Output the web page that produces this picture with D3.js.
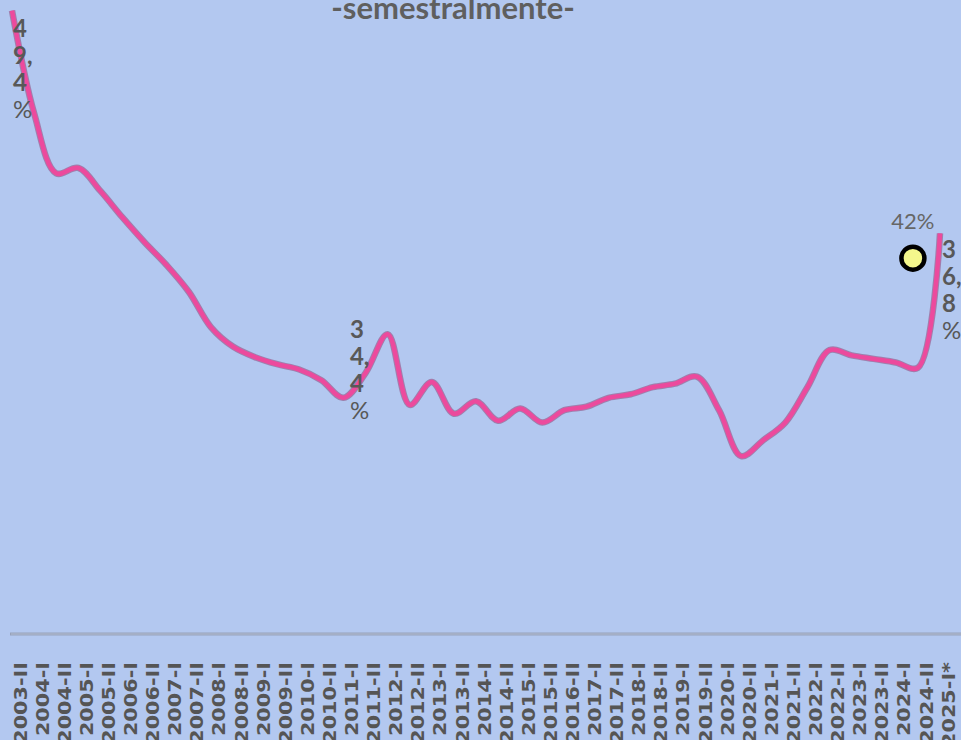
<!DOCTYPE html>
<html>
<head>
<meta charset="utf-8">
<script src="https://cdn.jsdelivr.net/npm/d3@7"></script>
<style>
  html, body { margin: 0; padding: 0; background: #b3c8f0; overflow: hidden; }
  svg { display: block; }
</style>
</head>
<body>
<div id="chart"></div>
<script>
// semesters (2016-I not published)
const periods = [
  '2003-II', '2004-I', '2004-II', '2005-I', '2005-II', '2006-I', '2006-II',
  '2007-I', '2007-II', '2008-I', '2008-II', '2009-I', '2009-II', '2010-I',
  '2010-II', '2011-I', '2011-II', '2012-I', '2012-II', '2013-I', '2013-II',
  '2014-I', '2014-II', '2015-I', '2015-II', '2016-II', '2017-I', '2017-II',
  '2018-I', '2018-II', '2019-I', '2019-II', '2020-I', '2020-II', '2021-I',
  '2021-II', '2022-I', '2022-II', '2023-I', '2023-II', '2024-I', '2024-II',
  '2025-I*'
];

const values = [
  49.4, 43.6, 40.2, 40.5, 39.2, 37.7, 36.3, 35.0, 33.5, 31.5,
  30.4, 29.8, 29.4, 29.1, 28.5, 27.5, 28.9, 31.1, 27.1, 28.4,
  26.6, 27.3, 26.2, 26.9, 26.1, 26.8, 27.0, 27.5, 27.7, 28.1,
  28.3, 28.7, 26.8, 24.2, 25.1, 26.1, 28.1, 30.2, 29.9, 29.7,
  29.5, 29.2, 36.8
];

// value labels shown on the line
const labelPeriods = ['2003-II', '2011-I', '2025-I*'];
const labelTexts = ['49,4%', '34,4%', '36,8%'];

// highlighted marker
const markPeriods = ['2024-II'];
const markValues = [35.4];
const markTexts = ['42%'];

const title = '-semestralmente-';

const width = 961, height = 740;
const svg = d3.select('#chart')
    .append('svg')
    .attr('width', width)
    .attr('height', height);

svg.append('rect')
    .attr('width', width)
    .attr('height', height)
    .attr('fill', '#b3c8f0');

const x = d3.scalePoint().domain(periods).range([12, 940]);
const y = d3.scaleLinear().domain([14, 50]).range([636.5, 0]);

// title (cut off at the top like the original)
svg.append('text')
    .attr('x', 453)
    .attr('y', 19)
    .attr('text-anchor', 'middle')
    .attr('font-family', 'Lato, sans-serif')
    .attr('font-weight', 700)
    .attr('font-size', '31px')
    .attr('fill', '#5f5f5f')
    .text(title);

// baseline
svg.append('line')
    .attr('x1', 10).attr('x2', width)
    .attr('y1', 634).attr('y2', 634)
    .attr('stroke', '#97a2ba')
    .attr('stroke-width', 3);
svg.append('line')
    .attr('x1', 11).attr('x2', width)
    .attr('y1', 634).attr('y2', 634)
    .attr('stroke', '#b1bcd2')
    .attr('stroke-width', 1);

// x axis labels
const xAxis = d3.axisBottom(x).tickSize(0);
const gx = svg.append('g')
    .attr('transform', 'translate(0,634)')
    .call(xAxis)
    .call(g => g.select('.domain').remove());

gx.selectAll('text')
    .attr('transform', 'rotate(-90) scale(1.22,1)')
    .attr('text-anchor', 'end')
    .attr('x', -23)
    .attr('y', 8)
    .attr('dy', '0.36em')
    .attr('font-family', 'DejaVu Sans, sans-serif')
    .attr('font-weight', 700)
    .attr('font-size', '17px')
    .attr('fill', '#555');

// line
const line = d3.line()
    .x((d, i) => x(periods[i]))
    .y(d => y(d))
    .curve(d3.curveCatmullRom.alpha(0.5));

svg.append('path')
    .datum(values)
    .attr('fill', 'none')
    .attr('stroke', '#8e4677')
    .attr('stroke-opacity', 0.55)
    .attr('stroke-width', 6.5)
    .attr('d', line);

svg.append('path')
    .datum(values)
    .attr('fill', 'none')
    .attr('stroke', '#ec4a9d')
    .attr('stroke-width', 4.5)
    .attr('d', line);

// wrapped value labels
const labelOffsets = [
  {dx: 1, dy: 26},
  {dx: 6.5, dy: -60},
  {dx: 2, dy: 25}
];

labelPeriods.forEach((p, k) => {
  const i = periods.indexOf(p);
  const px = x(p) + labelOffsets[k].dx;
  const py = y(values[i]) + labelOffsets[k].dy;
  const parts = labelTexts[k].match(/\d,?|%/g);
  const t = svg.append('text')
      .attr('font-family', 'Lato, sans-serif')
      .attr('font-weight', 700)
      .attr('font-size', '24px')
      .attr('fill', '#585858');
  parts.forEach((s, j) => {
    t.append('tspan')
        .attr('x', px)
        .attr('y', py + j * 27)
        .attr('font-weight', s === '%' ? 400 : 700)
        .text(s);
  });
});

// highlighted marker
markPeriods.forEach((p, k) => {
  const cx = x(p) - 5;
  const cy = y(markValues[k]);
  svg.append('circle')
      .attr('cx', cx)
      .attr('cy', cy)
      .attr('r', 11.5)
      .attr('fill', '#f4f78c')
      .attr('stroke', '#000')
      .attr('stroke-width', 4.5);
  svg.append('text')
      .attr('x', cx)
      .attr('y', cy - 29)
      .attr('text-anchor', 'middle')
      .attr('font-family', 'Lato, sans-serif')
      .attr('font-weight', 400)
      .attr('font-size', '22px')
      .attr('fill', '#666')
      .text(markTexts[k]);
});
</script>
</body>
</html>
